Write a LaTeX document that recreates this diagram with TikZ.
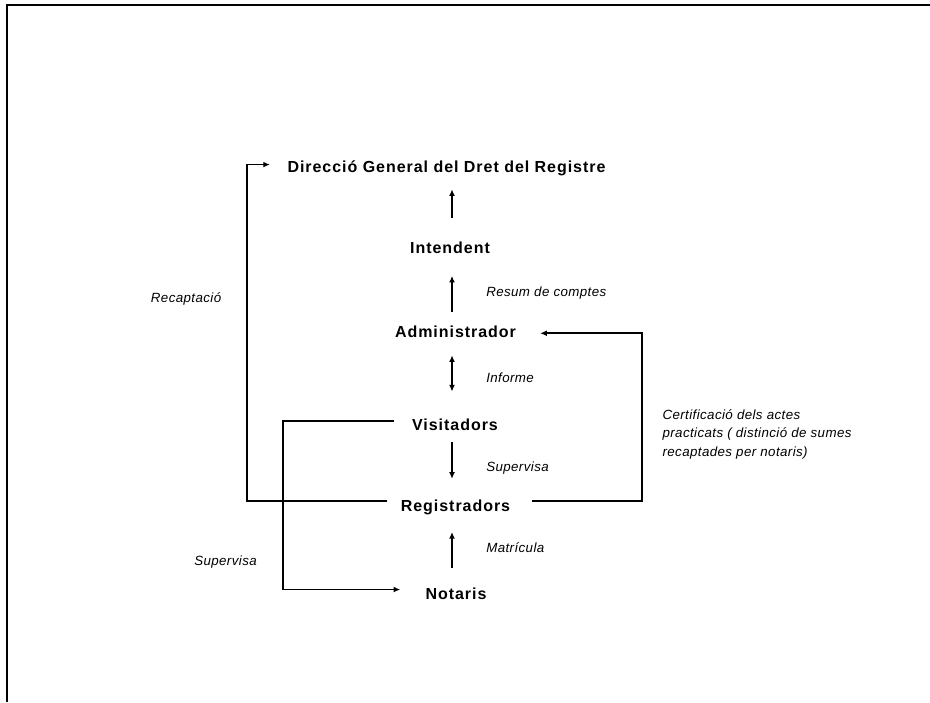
\documentclass[tikz,border=0pt]{standalone}
\usepackage{fontspec}
\setmainfont{Liberation Sans}
\newfontfamily\orgfont[LetterSpace=6]{Liberation Sans}
\newfontfamily\notefont[LetterSpace=3]{Liberation Sans}
\usetikzlibrary{arrows.meta}
\begin{document}
\begin{tikzpicture}[x=0.75pt, y=-0.75pt,
  >={Latex[length=5pt,width=4.4pt]},
  every node/.style = {inner sep=0pt},
  organ/.style = {font=\orgfont\bfseries\fontsize{12}{14}\selectfont,
    text height=8.6pt, text depth=0pt, anchor=base},
  note/.style = {font=\notefont\itshape\fontsize{10}{13.7}\selectfont,
    anchor=base west, align=left},
  flow/.style = {line width=1.3pt, ->}]
  \useasboundingbox (0,0) rectangle (930,702);
  \draw[line width=1.4pt] (7,702) -- (7,5) -- (930,5);
  % organs
  \node[organ] (dgdr) at (446.5,173) {Direcció General del Dret del Registre};
  \node[organ] (intend) at (450,253) {Intendent};
  \node[organ] (admin) at (455.5,337) {Administrador};
  \node[organ] (visit) at (455,430) {Visitadors};
  \node[organ] (regist) at (455.5,511.7) {Registradors};
  \node[organ] (notar) at (456,599) {Notaris};
  % labels
  \node[note] (lresum) at (486,296) {Resum de comptes};
  \node[note] (linforme) at (486,382.7) {Informe};
  \node[note] (lsupv) at (486,471) {Supervisa};
  \node[note] (lmatr) at (486,552.3) {Matrícula};
  \node[note] (lrecap) at (150.7,302.7) {Recaptació};
  \node[note] (lsupn) at (194,565.7) {Supervisa};
  \node[note] (lcert) at (662.3,456) {Certificació dels actes\\practicats ( distinció de sumes\\recaptades per notaris)};
  % columns
  \coordinate (col) at (452,0);
  \coordinate (recx) at (247,0);
  \coordinate (supx) at (283,0);
  \coordinate (certx) at (642,0);
  % connectors
  \draw[flow, shorten <=17.6pt, shorten >=12pt] (intend.north -| col) -- (dgdr.south -| col);
  \draw[flow, shorten <=10.3pt, shorten >=16.9pt] (admin.north -| col) -- (intend.south -| col);
  \draw[flow, <->, shorten <=13.5pt, shorten >=20pt] (admin.south -| col) -- (visit.north -| col);
  \draw[flow, shorten <=8.8pt, shorten >=15.8pt] (visit.south -| col) -- (regist.north -| col);
  \draw[flow, shorten <=14.4pt, shorten >=15pt] (notar.north -| col) -- (regist.south -| col);
  \draw[flow] ([xshift=-10pt,yshift=4pt]regist.west) coordinate (r1)
    -- (r1 -| recx) |- ([xshift=-13pt,yshift=2pt]dgdr.west);
  \draw[flow] ([xshift=-13.3pt,yshift=2.5pt]visit.west) coordinate (v1)
    -- (v1 -| supx) |- ([xshift=-18.75pt,yshift=2.8pt]notar.west);
  \draw[flow] ([xshift=16pt,yshift=4pt]regist.east) coordinate (r2)
    -- (r2 -| certx) |- ([xshift=18pt,yshift=-1.5pt]admin.east);
\end{tikzpicture}
\end{document}
